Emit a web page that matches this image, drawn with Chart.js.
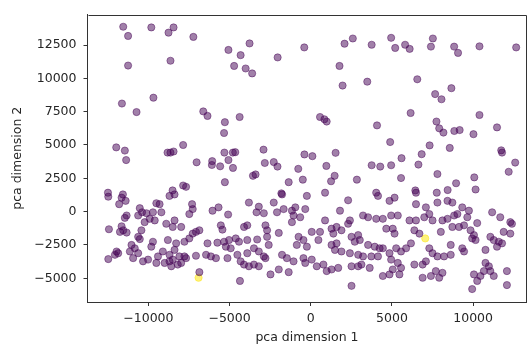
<!DOCTYPE html>
<html>
<head>
<meta charset="utf-8">
<script src="https://cdn.jsdelivr.net/npm/chart.js@4/dist/chart.umd.min.js"></script>
<style>
html,body{margin:0;padding:0;background:#fff;}
canvas{display:block;}
</style>
</head>
<body>
<canvas id="c" width="531" height="352"></canvas>
<script>
const xTicks = [-10000, -5000, 0, 5000, 10000];
const yTicks = [-5000, -2500, 0, 2500, 5000, 7500, 10000, 12500];
const xTitle = 'pca dimension 1';
const yTitle = 'pca dimension 2';

// cluster 0 (purple) points [pca1, pca2]
const purplePoints = [
[-11550,13870],[-11250,13180],[-9820,13820],[-8760,13430],[-8450,13820],[-7230,13110],[-5070,12130],[-11250,10960],[-8640,11320],[-4720,10930],[-9690,8550],[-11630,8110],[-10730,7470],[-6620,7520],[-6360,7180],[-5290,6710],[-5340,5900],[-11980,4820],[-11450,4580],[-11370,3870],[-8820,4430],[-8640,4430],[-8450,4510],[-7860,5000],[-7030,3700],[-6070,3790],[-6090,3500],[-5580,3400],[-5320,4430],[-5070,3870],[-4800,4430],[-4790,3280],[-5290,2210],[-7860,1960],[-7680,1860],[-8510,1590],[-12490,1420],[-11570,1290],
[-3770,12620],[-4320,11740],[-4010,10740],[-3610,10370],[-2040,11570],[-400,12320],[2080,12600],[2590,12990],[3750,12520],[1770,10930],[1960,9460],[3480,9750],[-4380,7100],[570,7100],[840,6930],[980,6760],[4080,6470],[-4650,4460],[-2910,4650],[-390,4290],[100,4160],[1530,4410],[-2830,3650],[-2280,3720],[-2050,3380],[-770,3210],[960,3430],[3750,3480],[-3560,2690],[-3400,2790],[-1360,2210],[-490,2400],[1470,2690],[1250,2280],[2840,2400],[-1810,1370],[880,1420],
[4950,13040],[5200,12280],[5810,12520],[6090,12210],[7520,12990],[7400,12380],[8830,12380],[9070,11910],[10390,12400],[12650,12320],[6560,9930],[8660,9260],[7660,8820],[8050,8430],[6150,7400],[10390,7250],[7740,6760],[7910,6250],[8170,5930],[8840,6050],[9170,6120],[10020,5810],[11470,6320],[4890,5220],[7320,4970],[8560,4780],[11730,4600],[11780,4430],[6830,4310],[5590,4010],[6630,3530],[4280,3380],[4950,3480],[12590,3680],[12190,2990],[5560,2520],[7800,2820],[8950,2130],[10070,2570],[6440,1590],[7760,1420],[8430,1620],[10150,1660],
[-12470,1120],[-11650,1050],[-11400,810],[-11800,560],[-9510,630],[-10530,260],[-10390,-50],[-10630,-290],[-11340,-290],[-11450,-470],[-10120,-120],[-9720,-50],[-9920,-540],[-9610,-660],[-10230,-790],[-12430,-1320],[-11650,-1100],[-11550,-1400],[-11750,-1520],[-11340,-1570],[-10430,-1400],[-10630,-1890],[-10530,-2060],[-9720,-2260],[-9820,-2630],[-11040,-2500],[-10840,-2750],[-11140,-2990],[-10630,-3120],[-11960,-2990],[-12060,-3240],[-11860,-3120],[-12470,-3560],[-10940,-3490],[-10330,-3730],[-10020,-3600],[-9510,-3850],[-9410,-3360],
[-8390,1290],[-8700,1180],[-9310,560],[-9200,-50],[-7310,560],[-7270,190],[-7480,-180],[-6050,70],[-5680,320],[-5090,-220],[-8900,-910],[-8390,-660],[-7980,-1150],[-8500,-1150],[-7070,-1520],[-6860,-1400],[-7270,-1650],[-5540,-1030],[-5440,-1350],[-8800,-2130],[-8290,-2380],[-7780,-2260],[-7480,-2010],[-6360,-2380],[-5750,-2330],[-5030,-2130],[-4930,-2750],[-5230,-2630],[-5340,-2260],[-9110,-2990],[-8700,-3240],[-8390,-2870],[-8090,-3360],[-7780,-3360],[-7680,-3490],[-7070,-3310],[-6450,-3240],[-6150,-3360],[-5840,-3490],[-5130,-3490],[-9000,-3850],[-8590,-4100],[-8190,-3970],[-8500,-3600],[-7980,-3850],[-8700,-3730],[-6860,-4540],
[-3810,680],[-3200,370],[-2890,-120],[-3340,-50],[-2280,680],[-1770,1290],[-2080,-50],[-1670,190],[-1160,70],[-950,320],[-1060,-290],[-650,-420],[-340,190],[-240,1180],[-1160,-790],[-4110,-1150],[-3910,-1030],[-2790,-1030],[-2690,-1400],[-1970,-1600],[-4620,-2010],[-4420,-2260],[-3910,-2130],[-3300,-2090],[-2690,-1890],[-2590,-2500],[-750,-1890],[-450,-2130],[-860,-2500],[-240,-2630],[-3500,-2750],[-3200,-2990],[-2890,-3360],[-2790,-3490],[-3910,-3120],[-4520,-3240],[-4320,-3730],[-4110,-3970],[-3810,-4100],[-3500,-3970],[-3200,-4100],[-1770,-3240],[-1470,-3490],[-1060,-3730],[-450,-3490],[-340,-3850],[-2480,-4710],[-1970,-4340],[-1360,-4540],[-4360,-5200],
[2300,850],[4030,1420],[4140,1180],[1800,70],[2410,-660],[2300,-910],[3220,-290],[3530,-420],[4030,-540],[4440,-540],[880,-660],[60,-1520],[570,-1520],[470,-2130],[1280,-1280],[1590,-1150],[1890,-1400],[1390,-1650],[2510,-1890],[2920,-1760],[3020,-2130],[2710,-2260],[3530,-2500],[3940,-2630],[4240,-2750],[1280,-2500],[1590,-2380],[1490,-2870],[1890,-2990],[2410,-3120],[2920,-3240],[3220,-3360],[3730,-3360],[4140,-3360],[60,-3600],[370,-4100],[780,-3970],[980,-4460],[1280,-4340],[1690,-4220],[2510,-4100],[2920,-4100],[3120,-3970],[3630,-4220],[4440,-4830],[2510,-5570],
[6480,1420],[8420,810],[8720,680],[7800,680],[4850,810],[5160,1050],[6480,560],[7090,320],[7300,-180],[7500,-660],[6990,-420],[4950,-290],[5360,-290],[6080,-660],[6480,-660],[6380,-1400],[6690,-1650],[4650,-1280],[5050,-1280],[5160,-1650],[8110,-660],[8420,-540],[8830,-290],[8010,-1520],[8720,-1150],[6170,-2380],[5870,-2750],[5560,-2990],[5260,-2750],[4850,-3120],[7300,-2750],[7500,-3120],[7800,-3360],[8210,-3360],[8620,-3240],[8620,-2500],[6380,-3970],[6890,-3970],[7090,-3730],[4950,-3600],[5360,-3850],[5050,-4340],[4850,-4710],[5460,-4710],[5560,-4220],[6890,-4960],[7400,-4830],[7910,-4960],[8110,-4590],[7700,-4460],[4440,-2750],
[9330,320],[9740,70],[9640,-420],[9030,-180],[9130,-1150],[9440,-1030],[10250,-860],[11170,-50],[11670,-420],[12290,-790],[12390,-910],[9840,-1400],[10050,-1760],[10150,-2130],[9940,-2010],[11880,-1520],[12290,-1650],[11060,-1890],[11270,-2130],[11580,-2260],[11470,-2630],[11780,-2380],[9330,-2750],[9440,-2990],[10760,-2870],[10760,-3850],[10970,-4100],[10660,-4460],[11060,-4460],[11270,-4830],[10450,-4830],[10250,-5200],[10050,-4710],[12080,-4460],[12080,-5510],[9940,-5810]
];

// cluster 1 (yellow) points
const yellowPoints = [[-6910,-4960],[7050,-2010]];

const toXY = arr => arr.map(p => ({x: p[0], y: p[1]}));
const fmt = v => (v < 0 ? '\u2212' + Math.abs(v) : String(v));
const FONT = {family: "'DejaVu Sans'", size: 12.5};

const frame = {
  id: 'frame',
  afterDraw(chart) {
    const {ctx, chartArea: a} = chart;
    ctx.save();
    ctx.strokeStyle = '#333';
    ctx.lineWidth = 1;
    ctx.beginPath();
    ctx.moveTo(Math.round(a.left) + 0.5, Math.round(a.top) + 0.5);
    ctx.lineTo(Math.round(a.right) + 0.5, Math.round(a.top) + 0.5);
    ctx.lineTo(Math.round(a.right) + 0.5, Math.round(a.bottom) + 0.5);
    ctx.stroke();
    ctx.restore();
  }
};

new Chart(document.getElementById('c'), {
  type: 'scatter',
  data: {
    datasets: [
      {data: toXY(purplePoints), backgroundColor: 'rgba(68,1,84,0.5)', borderColor: 'rgba(68,1,84,0.45)', borderWidth: 1, pointRadius: 3.6, pointHoverRadius: 3.6},
      {data: toXY(yellowPoints), backgroundColor: 'rgba(253,231,37,0.6)', borderColor: 'rgba(253,231,37,0.6)', borderWidth: 1, pointRadius: 3.6, pointHoverRadius: 3.6}
    ]
  },
  options: {
    responsive: false,
    animation: false,
    events: [],
    layout: {padding: {top: 7, right: 1.5, left: 0, bottom: 0}},
    plugins: {legend: {display: false}, tooltip: {enabled: false}},
    scales: {
      x: {
        type: 'linear', min: -13750, max: 13280,
        afterBuildTicks: s => { s.ticks = xTicks.map(v => ({value: v})); },
        afterFit: s => { s.height = 50; },
        grid: {drawOnChartArea: false, drawTicks: true, tickLength: 4, color: '#333', lineWidth: 1},
        border: {display: true, color: '#333', width: 1},
        ticks: {callback: fmt, color: '#262626', font: FONT, padding: 5, maxRotation: 0, autoSkip: false},
        title: {display: true, text: xTitle, color: '#262626', font: FONT, padding: {top: 0, bottom: 6.5}}
      },
      y: {
        type: 'linear', min: -6780, max: 14790,
        afterBuildTicks: s => { s.ticks = yTicks.map(v => ({value: v})); },
        afterFit: s => { s.width = 87.5; },
        grid: {drawOnChartArea: false, drawTicks: true, tickLength: 4, color: '#333', lineWidth: 1},
        border: {display: true, color: '#333', width: 1},
        ticks: {callback: fmt, color: '#262626', font: FONT, padding: 7, autoSkip: false},
        title: {display: true, text: yTitle, color: '#262626', font: FONT, padding: {top: 10.5, bottom: 0}}
      }
    }
  },
  plugins: [frame]
});
</script>
</body>
</html>
